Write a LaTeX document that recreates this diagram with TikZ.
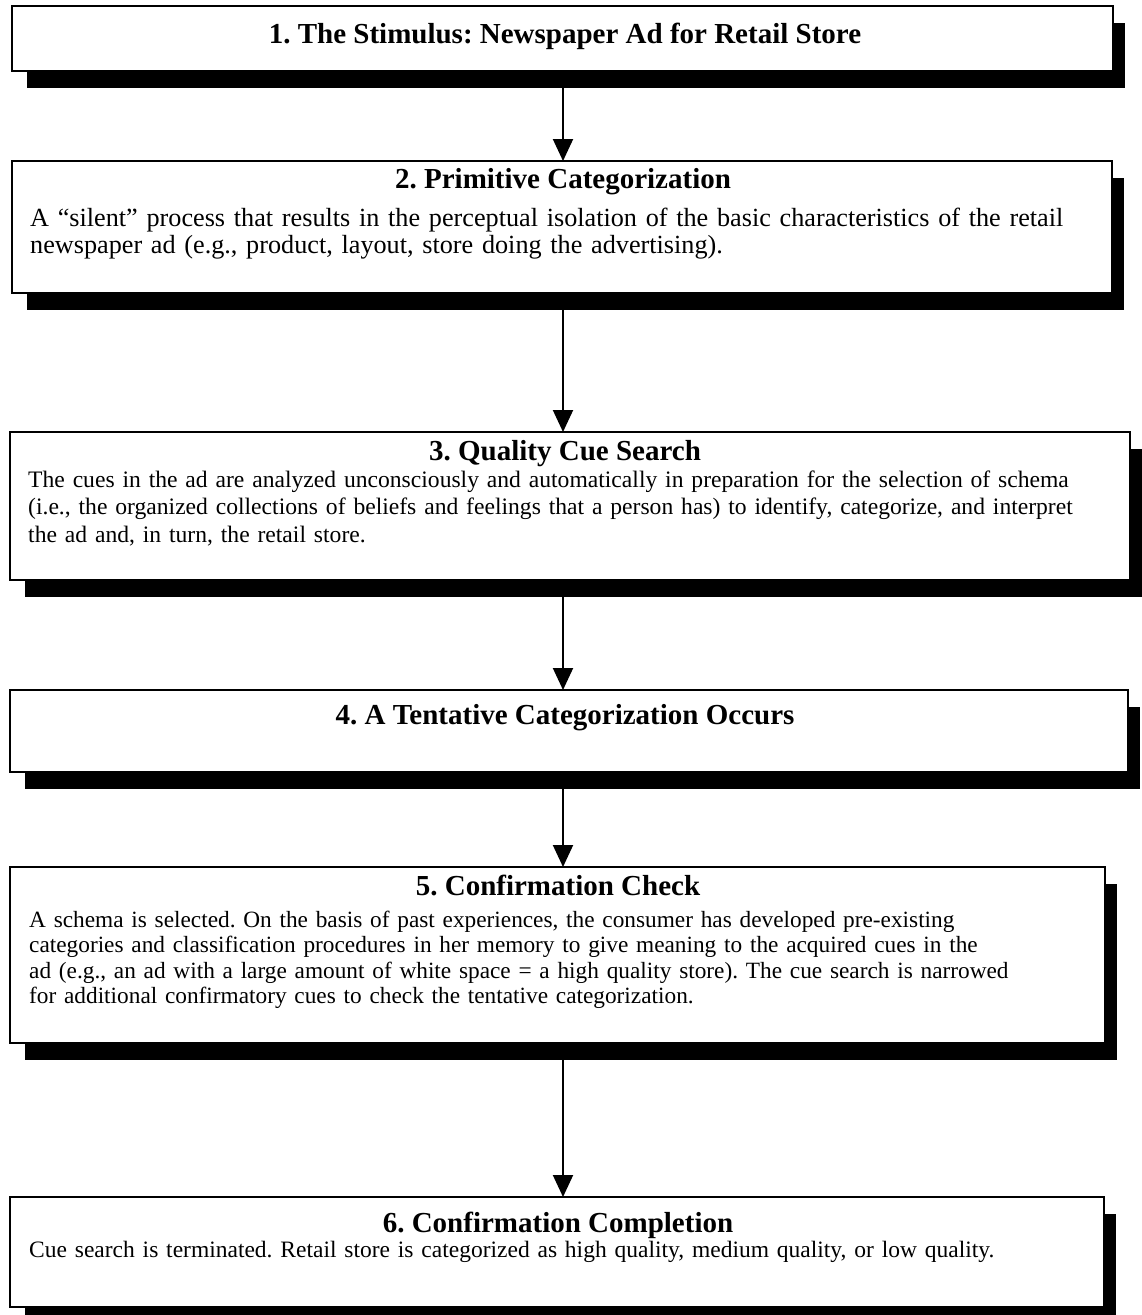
\documentclass[tikz,border=0pt]{standalone}
\usepackage{fontspec}
\setmainfont{Liberation Serif}
\usetikzlibrary{calc,arrows.meta}
\frenchspacing
\begin{document}
\begin{tikzpicture}[x=1pt,y=-1pt,
  box/.style={draw=black, line width=1.4pt, fill=white, inner sep=0pt, outer sep=0pt, anchor=north west, rectangle},
  shade/.style={fill=black, inner sep=0pt, outer sep=0pt, anchor=north west, rectangle},
  ttl/.style={font=\fontsize{29}{32}\selectfont\bfseries, anchor=base, inner sep=0pt},
  body/.style={anchor=base west, inner sep=0pt, text width=1125pt, align=left},
  flow/.style={line width=2pt, -{Triangle[width=20pt,length=22pt]}}]
\useasboundingbox (0,0) rectangle (1141,1315);
\coordinate (ax) at (563,0);
% shadows
\node[shade, minimum width=1098pt, minimum height=65pt]  (s1) at (27,23) {};
\node[shade, minimum width=1097pt, minimum height=132pt] (s2) at (27,178) {};
\node[shade, minimum width=1117pt, minimum height=148pt] (s3) at (25,449) {};
\node[shade, minimum width=1115pt, minimum height=82pt]  (s4) at (25,707) {};
\node[shade, minimum width=1092pt, minimum height=176pt] (s5) at (25,884) {};
\node[shade, minimum width=1091pt, minimum height=110pt] (s6) at (25,1214) {};
% boxes
\node[box, minimum width=1101pt, minimum height=65pt]  (b1) at (12,6) {};
\node[box, minimum width=1100pt, minimum height=132pt] (b2) at (12,161) {};
\node[box, minimum width=1120pt, minimum height=148pt] (b3) at (10,432) {};
\node[box, minimum width=1118pt, minimum height=82pt]  (b4) at (10,690) {};
\node[box, minimum width=1095pt, minimum height=176pt] (b5) at (10,867) {};
\node[box, minimum width=1094pt, minimum height=110pt] (b6) at (10,1197) {};
% titles
\node[ttl] (t1) at (565,43) {1. The Stimulus: Newspaper Ad for Retail Store};
\node[ttl] (t2) at (563,188) {2. Primitive Categorization};
\node[ttl] (t3) at (565,460) {3. Quality Cue Search};
\node[ttl] (t4) at (565,724) {4. A Tentative Categorization Occurs};
\node[ttl] (t5) at (558,895) {5. Confirmation Check};
\node[ttl] (t6) at (558,1232) {6. Confirmation Completion};
% bodies
\node[body, font=\fontsize{26.2}{27}\selectfont] (d2) at (30,226) {A “silent” process that results in the perceptual isolation of the basic characteristics of the retail\\
newspaper ad (e.g., product, layout, store doing the advertising).};
\node[body, font=\fontsize{23.6}{27.5}\selectfont] (d3) at (28,487) {The cues in the ad are analyzed unconsciously and automatically in preparation for the selection of schema\\
(i.e., the organized collections of beliefs and feelings that a person has) to identify, categorize, and interpret\\
the ad and, in turn, the retail store.};
\node[body, font=\fontsize{23.3}{25.5}\selectfont] (d5) at (29,927) {A schema is selected. On the basis of past experiences, the consumer has developed pre-existing\\
categories and classification procedures in her memory to give meaning to the acquired cues in the\\
ad (e.g., an ad with a large amount of white space = a high quality store). The cue search is narrowed\\
for additional confirmatory cues to check the tentative categorization.};
\node[body, font=\fontsize{23.5}{27}\selectfont] (d6) at (29,1257) {Cue search is terminated. Retail store is categorized as high quality, medium quality, or low quality.};
% arrows
\draw[flow] (s1.south -| ax) -- (b2.north -| ax);
\draw[flow] (s2.south -| ax) -- (b3.north -| ax);
\draw[flow] (s3.south -| ax) -- (b4.north -| ax);
\draw[flow] (s4.south -| ax) -- (b5.north -| ax);
\draw[flow] (s5.south -| ax) -- (b6.north -| ax);
\end{tikzpicture}
\end{document}
